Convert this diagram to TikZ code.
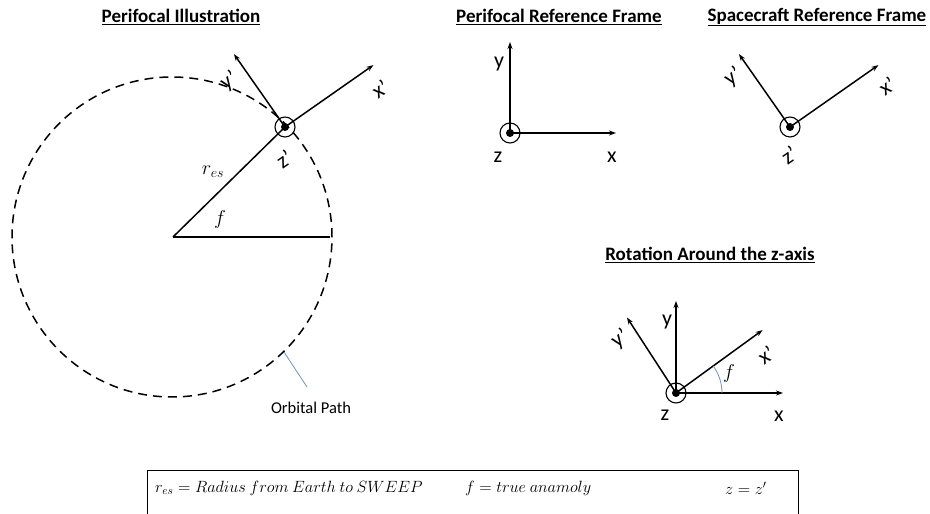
\RequirePackage{fix-cm}
\documentclass[tikz,border=0pt]{standalone}
\usepackage{fontspec}
\setmainfont{Carlito}
\definecolor{leaderblue}{RGB}{112,146,190}
\usetikzlibrary{calc, arrows.meta, positioning}
\tikzset{
	axisline/.style={
			line width=1.5pt,
			-{Stealth[length=7pt,width=5pt]}
		},
	plainline/.style={
			line width=1.5pt
		},
	orbitline/.style={
			line width=1.5pt,
			dash pattern=on 9pt off 6pt
		},
	leaderline/.style={
			draw=leaderblue,
			line width=0.8pt
		},
	originring/.style={
			circle,
			draw=black,
			line width=1.1pt,
			minimum size=20pt,
			inner sep=0pt
		},
	origindot/.style={
			circle,
			fill=black,
			minimum size=8pt,
			inner sep=0pt
		},
	axislabel/.style={
			font=\fontsize{22}{24}\selectfont,
			inner sep=0pt
		},
	primelabel/.style={
			axislabel,
			rotate=35
		},
	titlenode/.style={
			font=\fontsize{19}{22}\selectfont\bfseries,
			inner sep=0pt
		},
	mathnode/.style={
			font=\fontsize{20}{22}\selectfont,
			inner sep=0pt
		},
	keynode/.style={
			font=\fontsize{16.3}{18}\selectfont,
			inner sep=0pt,
			anchor=west
		}
}

\begin{document}
\begin{tikzpicture}[x=1pt, y=1pt]
\useasboundingbox (0,0) rectangle (930,514);
\clip (0,0) rectangle (930,514);

% titles
\node[titlenode] (t1) at (181,497) {\underline{Perifocal Illustration}};
\node[titlenode] (t2) at (559,497) {\underline{Perifocal Reference Frame}};
\node[titlenode] (t3) at (817,497) {\underline{Spacecraft Reference Frame}};
\node[titlenode] (t4) at (710,259) {\underline{Rotation Around the z-axis}};

% perifocal illustration
\coordinate (c) at (173,277);
\coordinate (p) at (330,277);
\draw[orbitline] (172,277) circle (160);
\draw[plainline] (c) -- (p);
\node[originring] (s) at (285,387) {};
\node[origindot] (sd) at (s) {};
\draw[plainline] (c) -- (s.center);
\coordinate (sx) at ($(s)+(35:108)$);
\coordinate (sy) at ($(s)+(125:89)$);
\draw[axisline] (s.center) -- (sx);
\draw[axisline] (s.center) -- (sy);
\node[primelabel] (lsx) at (380,425) {x'};
\node[primelabel] (lsy) at (229,433) {y'};
\node[primelabel] (lsz) at (284,355) {z'};
\node[mathnode] (lr) at (213,342) {$r_{es}$};
\node[mathnode] (lf) at (220,294) {$f$};
\coordinate (q) at (284,162);
\node[font=\fontsize{16.5}{18}\selectfont, inner sep=0pt] (lo) at (311,106) {Orbital Path};
\draw[leaderline] (q) -- (307,127);

% perifocal reference frame
\node[originring] (o1) at (510,381) {};
\node[origindot] (d1) at (o1) {};
\coordinate (x1) at (616,381);
\coordinate (y1) at (510,472);
\draw[axisline] (o1.center) -- (x1);
\draw[axisline] (o1.center) -- (y1);
\node[axislabel] (lx1) at (612,357) {x};
\node[axislabel] (ly1) at (499,450) {y};
\node[axislabel] (lz1) at (498,357) {z};

% spacecraft reference frame
\node[originring] (o2) at (790,387) {};
\node[origindot] (d2) at (o2) {};
\coordinate (x2) at ($(o2)+(35:108)$);
\coordinate (y2) at ($(o2)+(125:89)$);
\draw[axisline] (o2.center) -- (x2);
\draw[axisline] (o2.center) -- (y2);
\node[primelabel] (lx2) at (887,428) {x'};
\node[primelabel] (ly2) at (733,437) {y'};
\node[primelabel] (lz2) at (789,359) {z'};

% rotation around the z-axis
\node[originring] (o3) at (676,121) {};
\node[origindot] (d3) at (o3) {};
\coordinate (x3) at (783,121);
\coordinate (y3) at (676,213);
\coordinate (x4) at ($(o3)+(36:107)$);
\coordinate (y4) at ($(o3)+(123:90)$);
\draw[axisline] (o3.center) -- (x3);
\draw[axisline] (o3.center) -- (y3);
\draw[axisline] (o3.center) -- (x4);
\draw[axisline] (o3.center) -- (y4);
\draw[leaderline] ($(o3)+(46,0)$) arc (0:36:46);
\node[axislabel] (lx3) at (779,98) {x};
\node[axislabel] (ly3) at (667,192) {y};
\node[axislabel] (lz3) at (665,99) {z};
\node[primelabel] (lx4) at (766,159) {x'};
\node[primelabel] (ly4) at (620,175) {y'};
\node[mathnode] (lf3) at (729,140) {$f$};

% legend box
\draw[line width=0.9pt] (147,-5) -- (147,44) -- (798,44) -- (798,-5);
\node[keynode] (k1) at (155,26) {$r_{es} = Radius\ from\ Earth\ to\ SWEEP$};
\node[keynode] (k2) at (465,26) {$f = true\ anamoly$};
\node[keynode] (k3) at (725,26) {$z = z'$};
\end{tikzpicture}
\end{document}
